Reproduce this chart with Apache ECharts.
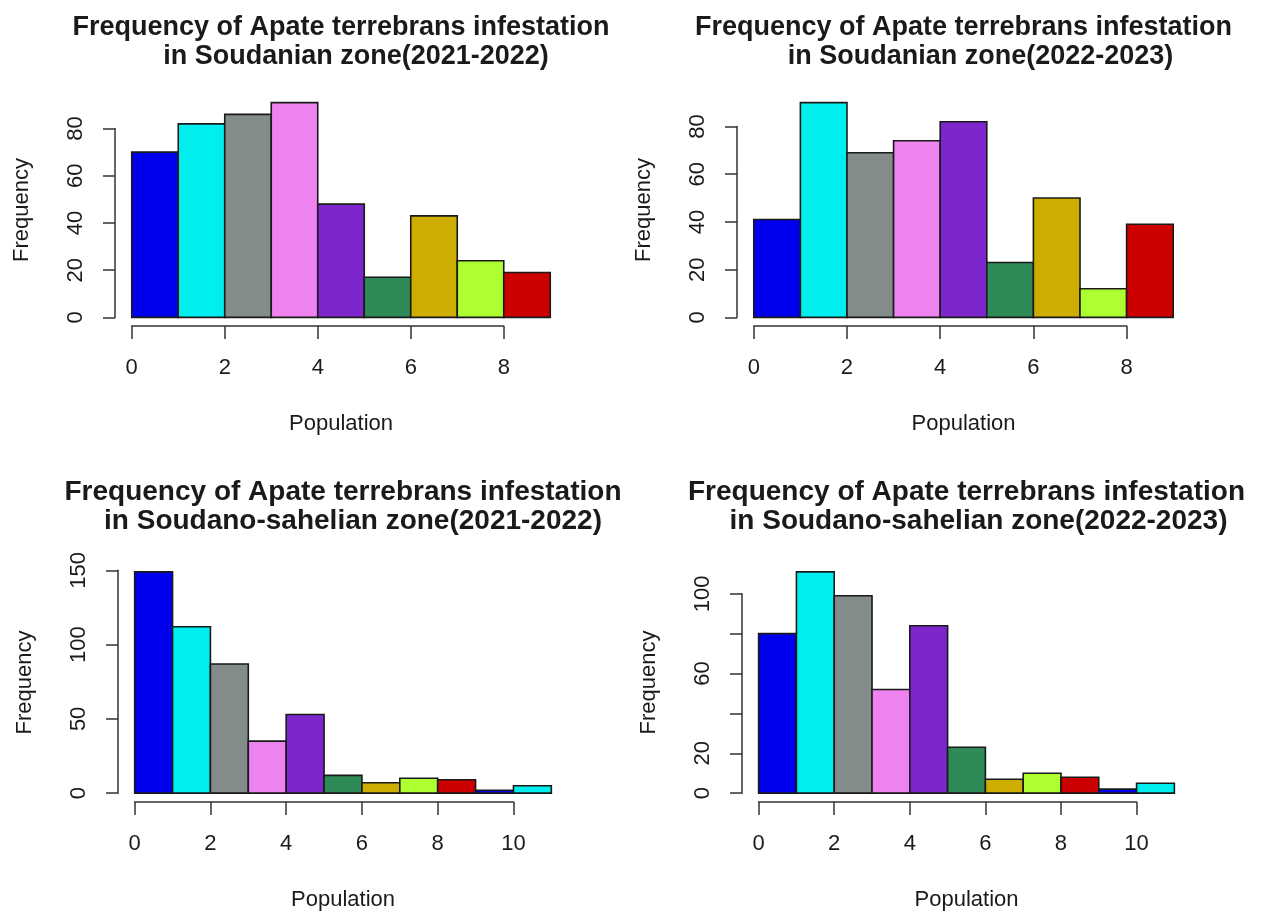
<!DOCTYPE html>
<html>
<head>
<meta charset="utf-8">
<script src="https://cdn.jsdelivr.net/npm/echarts@6/dist/echarts.min.js"></script>
<style>
  html, body { margin: 0; background: #fff; }
  #chart { width: 1263px; height: 914px; }
</style>
</head>
<body>
<div id="chart"></div>
<script>
// histogram breaks (Population)
const breaksTop = [0, 1, 2, 3, 4, 5, 6, 7, 8, 9]
const breaksBottom = [0, 1, 2, 3, 4, 5, 6, 7, 8, 9, 10, 11]

// counts per bin
const soudanian2122 = [70, 82, 86, 91, 48, 17, 43, 24, 19]
const soudanian2223 = [41, 90, 69, 74, 82, 23, 50, 12, 39]
const sahelian2122 = [149, 112, 87, 35, 53, 12, 7, 10, 9, 2, 5]
const sahelian2223 = [80, 111, 99, 52, 84, 23, 7, 10, 8, 2, 5]

// tick values / labels
const xTicksTop = [0, 2, 4, 6, 8]
const xTicksBottom = [0, 2, 4, 6, 8, 10]
const yTicks80 = [0, 20, 40, 60, 80]
const yTicks150 = [0, 50, 100, 150]
const yTicks100 = [0, 20, 40, 60, 80, 100]
const yLabels100 = ['0', '20', '', '60', '', '100']

// R colours, recycled over the bins
const binColors = ['#0000EE', '#00EEEE', '#838B8B', '#EE82EE', '#7D26CD', '#2E8B57', '#CDAD00', '#ADFF2F', '#CD0000']

const FONT = "'Liberation Sans', Arial, sans-serif"
const INK = '#1a1a1a'
const AXIS = '#333'

const panels = [
  {
    counts: soudanian2122, breaks: breaksTop, xTicks: xTicksTop, yTicks: yTicks80, yLabels: null,
    title: ['Frequency of Apate terrebrans infestation', 'in Soudanian zone(2021-2022)'],
    box: [115, 94, 452, 232], titleY: [28, 57], titleSize: 27, line2Shift: 15
  },
  {
    counts: soudanian2223, breaks: breaksTop, xTicks: xTicksTop, yTicks: yTicks80, yLabels: null,
    title: ['Frequency of Apate terrebrans infestation', 'in Soudanian zone(2022-2023)'],
    box: [737, 94, 453, 232], titleY: [28, 57], titleSize: 27, line2Shift: 17
  },
  {
    counts: sahelian2122, breaks: breaksBottom, xTicks: xTicksBottom, yTicks: yTicks150, yLabels: null,
    title: ['Frequency of Apate terrebrans infestation', 'in Soudano-sahelian zone(2021-2022)'],
    box: [118, 563, 450, 239], titleY: [492, 521], titleSize: 28, line2Shift: 10
  },
  {
    counts: sahelian2223, breaks: breaksBottom, xTicks: xTicksBottom, yTicks: yTicks100, yLabels: yLabels100,
    title: ['Frequency of Apate terrebrans infestation', 'in Soudano-sahelian zone(2022-2023)'],
    box: [742, 563, 449, 239], titleY: [492, 521], titleSize: 28, line2Shift: 12
  }
]

function renderBar(params, api) {
  const p0 = api.coord([api.value(0), api.value(2)])
  const p1 = api.coord([api.value(1), 0])
  return {
    type: 'rect',
    shape: { x: p0[0], y: p0[1], width: p1[0] - p0[0], height: p1[1] - p0[1] },
    style: { fill: binColors[api.value(3) % binColors.length], stroke: INK, lineWidth: 1.6 }
  }
}

function text(str, x, y, size, weight, rotation) {
  return {
    type: 'text', x: x, y: y, rotation: rotation || 0, silent: true,
    style: {
      text: str, font: weight + ' ' + size + 'px ' + FONT, fill: INK,
      align: 'center', verticalAlign: 'middle',
      textAlign: 'center', textVerticalAlign: 'middle'
    }
  }
}

const grid = [], xAxis = [], yAxis = [], series = [], graphic = []

panels.forEach((p) => {
  const [L, T, W, H] = p.box
  const lo = p.breaks[0], hi = p.breaks[p.breaks.length - 1]
  const span = hi - lo
  const xmin = lo - 0.04 * span, xmax = hi + 0.04 * span
  const ymax = Math.max(...p.counts)
  const ymin = -0.04 * ymax, ytop = 1.04 * ymax
  const px = v => L + (v - xmin) / (xmax - xmin) * W
  const py = v => T + H - (v - ymin) / (ytop - ymin) * H

  // plot region with the bars
  let gi = grid.length
  grid.push({ left: L, top: T, width: W, height: H, outerBoundsMode: 'none' })
  xAxis.push({ gridIndex: gi, type: 'value', min: xmin, max: xmax, show: false })
  yAxis.push({ gridIndex: gi, type: 'value', min: ymin, max: ytop, show: false })
  series.push({
    type: 'custom', xAxisIndex: gi, yAxisIndex: gi, renderItem: renderBar, clip: false,
    data: p.counts.map((c, i) => [p.breaks[i], p.breaks[i + 1], c, i])
  })

  // R style x axis: line only from first to last tick, below the plot
  const xt = p.xTicks
  gi = grid.length
  grid.push({ left: px(xt[0]), width: px(xt[xt.length - 1]) - px(xt[0]), top: T + H - 10, height: 10, outerBoundsMode: 'none' })
  xAxis.push({
    gridIndex: gi, type: 'value', min: xt[0], max: xt[xt.length - 1], interval: xt[1] - xt[0],
    axisLine: { show: true, lineStyle: { color: AXIS, width: 1.5 } },
    axisTick: { show: true, length: 13, lineStyle: { color: AXIS, width: 1.5 } },
    axisLabel: { margin: 31, color: INK, fontSize: 22, fontFamily: FONT },
    splitLine: { show: false }
  })
  yAxis.push({ gridIndex: gi, type: 'value', show: false })

  // R style y axis at the left edge of the plot region
  const yt = p.yTicks
  gi = grid.length
  grid.push({ left: L, width: 10, top: py(yt[yt.length - 1]), height: py(yt[0]) - py(yt[yt.length - 1]), outerBoundsMode: 'none' })
  xAxis.push({ gridIndex: gi, type: 'value', show: false })
  yAxis.push({
    gridIndex: gi, type: 'value', min: yt[0], max: yt[yt.length - 1], interval: yt[1] - yt[0],
    axisLine: { show: true, lineStyle: { color: AXIS, width: 1.5 } },
    axisTick: { show: true, length: 12, lineStyle: { color: AXIS, width: 1.5 } },
    axisLabel: {
      rotate: 90, margin: 28, color: INK, fontSize: 22, fontFamily: FONT,
      formatter: v => p.yLabels ? p.yLabels[yt.indexOf(v)] : String(v)
    },
    splitLine: { show: false }
  })

  // titles and axis names
  const cx = L + W / 2
  graphic.push(text(p.title[0], cx, p.titleY[0], p.titleSize, 'bold'))
  graphic.push(text(p.title[1], cx + p.line2Shift, p.titleY[1], p.titleSize, 'bold'))
  graphic.push(text('Population', cx, T + H + 98, 22, 'normal'))
  graphic.push(text('Frequency', L - 93, T + H / 2, 22, 'normal', Math.PI / 2))
})

const chart = echarts.init(document.getElementById('chart'))
chart.setOption({
  animation: false,
  backgroundColor: '#fff',
  grid: grid,
  xAxis: xAxis,
  yAxis: yAxis,
  series: series,
  graphic: graphic
})
</script>
</body>
</html>
